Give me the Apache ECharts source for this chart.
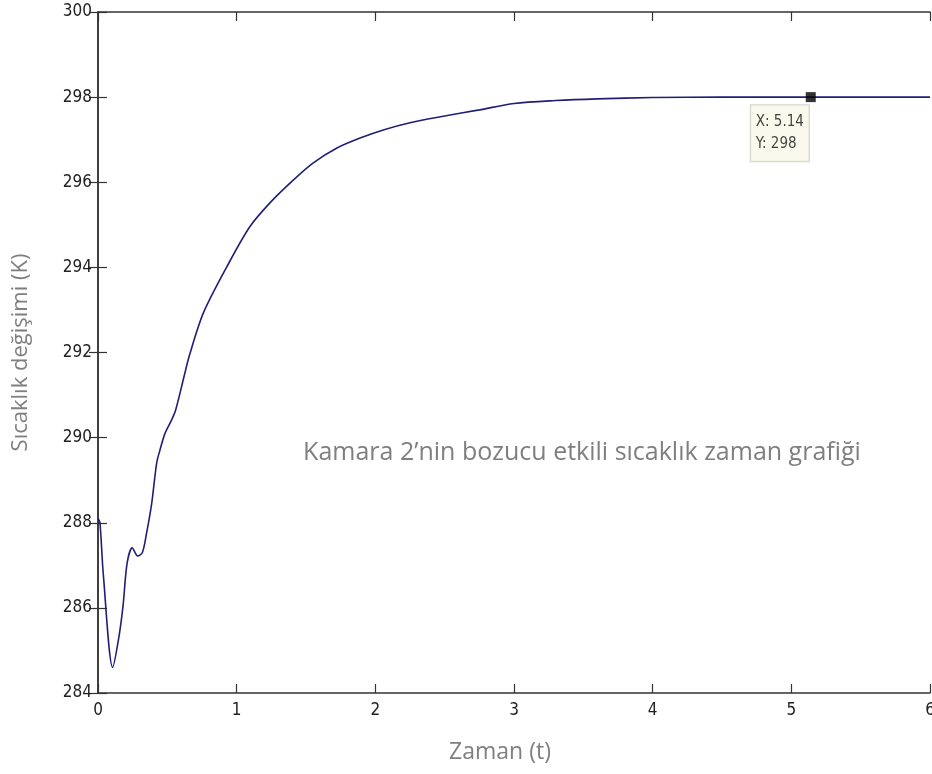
<!DOCTYPE html>
<html>
<head>
<meta charset="utf-8">
<script src="https://cdn.jsdelivr.net/npm/echarts@6/dist/echarts.min.js"></script>
<style>html,body{margin:0;padding:0;background:#fff}#c{width:932px;height:774px}</style>
</head>
<body>
<div id="c"></div>
<script>
const timeValues = [0, 0.014, 0.038, 0.106, 0.147, 0.18, 0.21, 0.247, 0.286, 0.32, 0.35, 0.387, 0.423, 0.447, 0.483, 0.53, 0.56, 0.62, 0.66, 0.76, 0.93, 1.096, 1.25, 1.408, 1.55, 1.72, 1.9, 2.057, 2.25, 2.49, 2.75, 3.0, 3.3, 3.6, 4.0, 4.5, 5.14, 5.5, 6.0];
const tempValues = [288.1, 288.0, 286.8, 284.6, 285.24, 286.03, 287.05, 287.41, 287.22, 287.3, 287.75, 288.45, 289.4, 289.71, 290.1, 290.41, 290.65, 291.43, 291.94, 292.93, 294.02, 294.96, 295.55, 296.05, 296.45, 296.8, 297.05, 297.23, 297.4, 297.55, 297.7, 297.85, 297.92, 297.96, 297.99, 298.0, 298.0, 298.0, 298.0];
const xTicks = [0, 1, 2, 3, 4, 5, 6];
const yTicks = [284, 286, 288, 290, 292, 294, 296, 298, 300];
const tipX = 5.14, tipY = 298;
const xName = 'Zaman (t)';
const yName = 'Sıcaklık değişimi (K)';
const annotation = 'Kamara 2’nin bozucu etkili sıcaklık zaman grafiği';

const chart = echarts.init(document.getElementById('c'));
const narrow = '"Liberation Sans Narrow","DejaVu Sans Condensed",sans-serif';
const tickFont = {fontFamily: narrow, fontSize: 17, color: '#222'};
const axisLine = {show: true, lineStyle: {color: '#333', width: 1.5}};
const axisTick = {show: true, inside: true, length: 9, lineStyle: {color: '#333', width: 1.2}};
const nameFont = '"Open Sans","Noto Sans",sans-serif';
chart.setOption({
  animation: false,
  backgroundColor: '#fff',
  grid: {left: 98, right: 2, top: 12, bottom: 81, containLabel: false, outerBoundsMode: 'none'},
  graphic: [{
    type: 'text', x: 582, y: 453,
    style: {text: annotation, fill: '#7f7f7f', font: '25px ' + nameFont, textAlign: 'center', textVerticalAlign: 'middle'}
  }],
  xAxis: [{
    type: 'value', min: xTicks[0], max: xTicks[xTicks.length - 1], interval: 1,
    axisLine, axisTick, splitLine: {show: false},
    axisLabel: Object.assign({margin: 9}, tickFont),
    name: xName, nameLocation: 'middle', nameGap: 48,
    nameTextStyle: {fontFamily: nameFont, fontSize: 23, color: '#7f7f7f', padding: [0, 28, 0, 0]}
  }, {
    type: 'value', position: 'top', min: xTicks[0], max: xTicks[xTicks.length - 1], interval: 1,
    axisLine, axisTick, splitLine: {show: false}, axisLabel: {show: false}
  }],
  yAxis: [{
    type: 'value', min: yTicks[0], max: yTicks[yTicks.length - 1], interval: 2,
    axisLine, axisTick, splitLine: {show: false},
    axisLabel: Object.assign({margin: 6}, tickFont),
    name: yName, nameLocation: 'middle', nameGap: 66,
    nameTextStyle: {fontFamily: nameFont, fontSize: 22, color: '#7f7f7f'}
  }, {
    type: 'value', position: 'right', min: yTicks[0], max: yTicks[yTicks.length - 1], interval: 2,
    axisLine, axisTick, splitLine: {show: false}, axisLabel: {show: false}
  }],
  series: [{
    type: 'line',
    data: timeValues.map((t, i) => [t, tempValues[i]]),
    showSymbol: false, smooth: 0.3,
    lineStyle: {color: '#1f1f78', width: 1.6},
    z: 2
  }, {
    type: 'scatter',
    data: [[tipX, tipY]],
    symbol: 'rect', symbolSize: 10,
    itemStyle: {color: '#000'},
    z: 5,
    label: {
      show: true, position: [-55, 13],
      formatter: 'X: ' + tipX + '\nY: ' + tipY,
      fontFamily: narrow,
      fontSize: 15, lineHeight: 22, color: '#111',
      backgroundColor: '#f7f7e9', borderColor: '#c8c8c0', borderWidth: 1,
      padding: [6, 5, 6, 5]
    }
  }]
});
</script>
</body>
</html>
